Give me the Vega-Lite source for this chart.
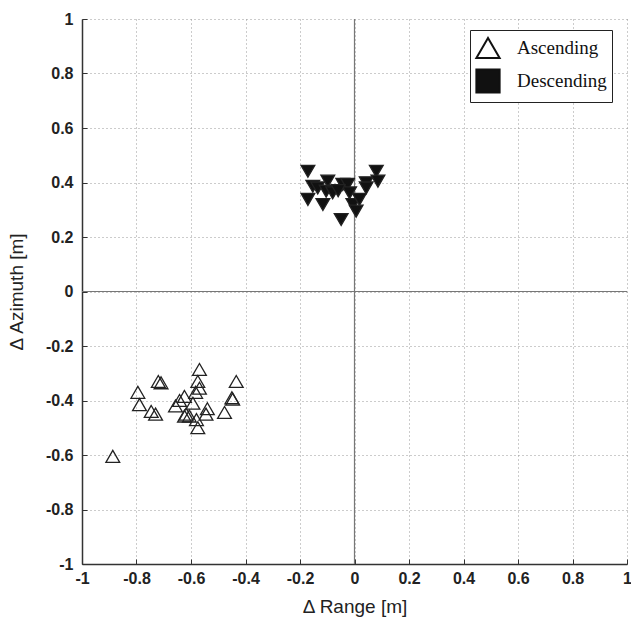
{
  "$schema": "https://vega.github.io/schema/vega-lite/v6.json",
  "width": 545,
  "height": 545,
  "autosize": "none",
  "padding": {"left": 82, "top": 19, "right": 4, "bottom": 58},
  "background": "white",
  "config": {
    "view": {"stroke": null},
    "axis": {
      "labelFont": "Liberation Sans",
      "labelFontSize": 16,
      "labelFontWeight": "bold",
      "labelColor": "#222",
      "titleFont": "Liberation Sans",
      "titleFontSize": 19,
      "titleFontWeight": "normal",
      "titleColor": "#222",
      "domainColor": "#333",
      "domainWidth": 1.5,
      "tickColor": "#333",
      "tickSize": -5,
      "gridColor": "#999",
      "gridDash": [1, 3],
      "gridWidth": 1
    },
    "legend": {
      "orient": "none",
      "legendX": 388,
      "legendY": 11,
      "padding": 5,
      "strokeColor": "#222",
      "fillColor": "white",
      "labelFont": "Liberation Serif",
      "labelFontSize": 19,
      "labelColor": "#111",
      "symbolSize": 540,
      "symbolOpacity": 1,
      "symbolStrokeWidth": 2,
      "rowPadding": 2,
      "labelOffset": 16
    }
  },
  "datasets": {
    "pts": [
      {"range": -0.569, "azimuth": -0.286, "pass": "Ascending"},
      {"range": -0.575, "azimuth": -0.33, "pass": "Ascending"},
      {"range": -0.72, "azimuth": -0.33, "pass": "Ascending"},
      {"range": -0.71, "azimuth": -0.335, "pass": "Ascending"},
      {"range": -0.795, "azimuth": -0.37, "pass": "Ascending"},
      {"range": -0.789, "azimuth": -0.415, "pass": "Ascending"},
      {"range": -0.746, "azimuth": -0.44, "pass": "Ascending"},
      {"range": -0.73, "azimuth": -0.45, "pass": "Ascending"},
      {"range": -0.642, "azimuth": -0.4, "pass": "Ascending"},
      {"range": -0.624, "azimuth": -0.385, "pass": "Ascending"},
      {"range": -0.657, "azimuth": -0.42, "pass": "Ascending"},
      {"range": -0.583, "azimuth": -0.37, "pass": "Ascending"},
      {"range": -0.569, "azimuth": -0.355, "pass": "Ascending"},
      {"range": -0.593, "azimuth": -0.41, "pass": "Ascending"},
      {"range": -0.618, "azimuth": -0.45, "pass": "Ascending"},
      {"range": -0.606, "azimuth": -0.457, "pass": "Ascending"},
      {"range": -0.624, "azimuth": -0.457, "pass": "Ascending"},
      {"range": -0.58, "azimuth": -0.47, "pass": "Ascending"},
      {"range": -0.575, "azimuth": -0.5, "pass": "Ascending"},
      {"range": -0.54, "azimuth": -0.43, "pass": "Ascending"},
      {"range": -0.545, "azimuth": -0.45, "pass": "Ascending"},
      {"range": -0.477, "azimuth": -0.444, "pass": "Ascending"},
      {"range": -0.434, "azimuth": -0.33, "pass": "Ascending"},
      {"range": -0.45, "azimuth": -0.39, "pass": "Ascending"},
      {"range": -0.447, "azimuth": -0.395, "pass": "Ascending"},
      {"range": -0.887, "azimuth": -0.605, "pass": "Ascending"},
      {"range": -0.171, "azimuth": 0.441, "pass": "Descending"},
      {"range": -0.153, "azimuth": 0.386, "pass": "Descending"},
      {"range": -0.135, "azimuth": 0.38, "pass": "Descending"},
      {"range": -0.171, "azimuth": 0.338, "pass": "Descending"},
      {"range": -0.116, "azimuth": 0.319, "pass": "Descending"},
      {"range": -0.098, "azimuth": 0.405, "pass": "Descending"},
      {"range": -0.104, "azimuth": 0.368, "pass": "Descending"},
      {"range": -0.08, "azimuth": 0.362, "pass": "Descending"},
      {"range": -0.043, "azimuth": 0.393, "pass": "Descending"},
      {"range": -0.025, "azimuth": 0.393, "pass": "Descending"},
      {"range": -0.018, "azimuth": 0.362, "pass": "Descending"},
      {"range": -0.006, "azimuth": 0.319, "pass": "Descending"},
      {"range": 0.006, "azimuth": 0.295, "pass": "Descending"},
      {"range": 0.018, "azimuth": 0.338, "pass": "Descending"},
      {"range": -0.049, "azimuth": 0.264, "pass": "Descending"},
      {"range": 0.043, "azimuth": 0.399, "pass": "Descending"},
      {"range": 0.08, "azimuth": 0.441, "pass": "Descending"},
      {"range": 0.086, "azimuth": 0.405, "pass": "Descending"},
      {"range": 0.043, "azimuth": 0.38, "pass": "Descending"},
      {"range": -0.06, "azimuth": 0.37, "pass": "Descending"}
    ],
    "zero": [{"v": 0}]
  },
  "resolve": {"scale": {"shape": "independent", "fill": "independent", "stroke": "independent"}},
  "layer": [
    {
      "data": {"name": "zero"},
      "mark": {"type": "rule", "color": "#777", "strokeWidth": 1.2},
      "encoding": {
        "x": {"field": "v", "type": "quantitative", "scale": {"domain": [-1, 1]}}
      }
    },
    {
      "data": {"name": "zero"},
      "mark": {"type": "rule", "color": "#777", "strokeWidth": 1.2},
      "encoding": {
        "y": {"field": "v", "type": "quantitative", "scale": {"domain": [-1, 1]}}
      }
    },
    {
      "data": {"name": "pts"},
      "mark": {"type": "point", "size": 190, "strokeWidth": 1.3, "stroke": "#222", "opacity": 1, "filled": false},
      "encoding": {
        "x": {
          "field": "range", "type": "quantitative",
          "scale": {"domain": [-1, 1], "nice": false, "zero": false},
          "axis": {
            "title": "Δ Range [m]",
            "values": [-1, -0.8, -0.6, -0.4, -0.2, 0, 0.2, 0.4, 0.6, 0.8, 1],
            "format": "~g",
            "labelExpr": "replace(datum.label, '−', '-')",
            "labelPadding": 11,
            "titleY": 33,
            "labelFlush": false
          }
        },
        "y": {
          "field": "azimuth", "type": "quantitative",
          "scale": {"domain": [-1, 1], "nice": false, "zero": false},
          "axis": {
            "title": "Δ Azimuth [m]",
            "values": [-1, -0.8, -0.6, -0.4, -0.2, 0, 0.2, 0.4, 0.6, 0.8, 1],
            "format": "~g",
            "labelExpr": "replace(datum.label, '−', '-')",
            "labelPadding": 14,
            "titleX": -56,
            "labelFlush": false
          }
        },
        "shape": {
          "field": "pass", "type": "nominal",
          "scale": {"domain": ["Ascending", "Descending"], "range": ["triangle-up", "triangle-down"]},
          "legend": null
        },
        "fill": {
          "field": "pass", "type": "nominal",
          "scale": {"domain": ["Ascending", "Descending"], "range": ["transparent", "#111"]},
          "legend": null
        }
      }
    },
    {
      "data": {"name": "pts"},
      "mark": {"type": "point", "size": 10, "opacity": 0, "filled": true},
      "encoding": {
        "x": {"field": "range", "type": "quantitative"},
        "y": {"field": "azimuth", "type": "quantitative"},
        "shape": {
          "field": "pass", "type": "nominal",
          "scale": {"domain": ["Ascending", "Descending"], "range": ["triangle-up", "square"]},
          "legend": {"title": null}
        },
        "fill": {
          "field": "pass", "type": "nominal",
          "scale": {"domain": ["Ascending", "Descending"], "range": ["white", "#111"]},
          "legend": {"title": null}
        },
        "stroke": {
          "field": "pass", "type": "nominal",
          "scale": {"domain": ["Ascending", "Descending"], "range": ["#111", "#111"]},
          "legend": {"title": null}
        }
      }
    }
  ]
}
